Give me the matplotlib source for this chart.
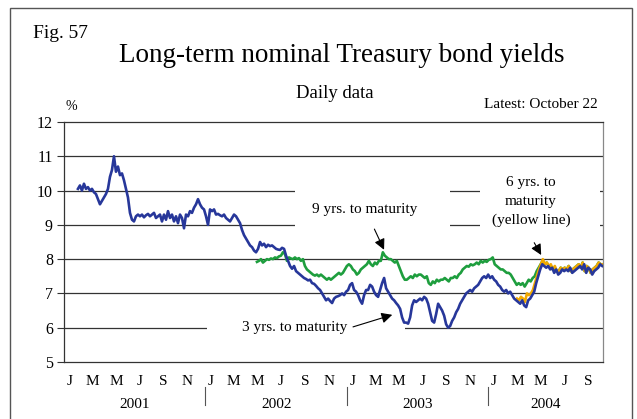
import numpy as np
import pandas as pd
import matplotlib
matplotlib.use("Agg")
from matplotlib import pyplot as plt
from matplotlib.patches import Rectangle
import matplotlib.dates as mdates

plt.rcParams['font.family'] = ['Liberation Serif', 'DejaVu Serif']

# 3 yrs. to maturity (blue), evenly spaced readings
yrs3_start, yrs3_end = '2001-02-06', '2004-10-21'
yrs3 = [10.05, 10.15, 10.0, 10.2, 10.05, 10.1, 10.0, 10.05,
        9.95, 9.9, 9.75, 9.6, 9.7, 9.8, 9.9, 10.05,
        10.4, 10.6, 11.0, 10.55, 10.7, 10.45, 10.5, 10.3,
        10.05, 9.8, 9.35, 9.15, 9.1, 9.25, 9.3, 9.25,
        9.3, 9.22, 9.28, 9.32, 9.25, 9.3, 9.35, 9.2,
        9.25, 9.3, 9.1, 9.3, 9.15, 9.4, 9.2, 9.3,
        9.1, 9.25, 9.05, 9.3, 9.2, 8.9, 9.3, 9.25,
        9.4, 9.35, 9.5, 9.6, 9.75, 9.6, 9.5, 9.45,
        9.25, 9.0, 9.45, 9.4, 9.45, 9.3, 9.32, 9.28,
        9.25, 9.3, 9.2, 9.15, 9.1, 9.2, 9.3, 9.25,
        9.15, 9.05, 8.85, 8.7, 8.6, 8.5, 8.4, 8.35,
        8.25, 8.2, 8.3, 8.5, 8.4, 8.45, 8.35, 8.42,
        8.38, 8.4, 8.35, 8.3, 8.28, 8.27, 8.33, 8.3,
        8.1, 7.95, 7.8, 7.72, 7.8, 7.65, 7.6, 7.55,
        7.5, 7.45, 7.42, 7.38, 7.4, 7.3, 7.28, 7.22,
        7.15, 7.1, 7.0, 6.9, 6.8, 6.85, 6.78, 6.72,
        6.85, 6.9, 6.92, 6.95, 7.0, 6.95, 7.05, 7.1,
        7.25, 7.3, 7.1, 7.05, 6.95, 6.8, 6.7, 6.95,
        7.1, 7.1, 7.25, 7.2, 7.05, 6.95, 6.9, 7.1,
        7.3, 7.45, 7.15, 7.05, 6.95, 6.85, 6.8, 6.72,
        6.65, 6.55, 6.3, 6.15, 6.15, 6.12, 6.3, 6.65,
        6.8, 6.75, 6.8, 6.85, 6.8, 6.9, 6.85, 6.7,
        6.45, 6.2, 6.15, 6.4, 6.7, 6.6, 6.5, 6.35,
        6.1, 6.0, 6.05, 6.2, 6.3, 6.45, 6.55, 6.7,
        6.8, 6.9, 7.0, 7.05, 7.1, 7.05, 7.15, 7.2,
        7.25, 7.35, 7.45, 7.5, 7.45, 7.55, 7.45, 7.5,
        7.4, 7.35, 7.25, 7.2, 7.1, 7.05, 7.1, 7.0,
        7.05, 6.95, 6.85, 6.8, 6.75, 6.7, 6.8, 6.65,
        6.6, 6.8, 6.85, 6.95, 7.05, 7.3, 7.5, 7.7,
        7.85, 7.8, 7.75, 7.8, 7.7, 7.75, 7.6, 7.7,
        7.55, 7.6, 7.7, 7.65, 7.7, 7.65, 7.75, 7.6,
        7.65, 7.7, 7.75, 7.8, 7.7, 7.85, 7.6, 7.75,
        7.7, 7.55, 7.65, 7.7, 7.75, 7.85, 7.8]

# 9 yrs. to maturity (green)
yrs9_start, yrs9_end = '2002-05-14', '2004-10-22'
yrs9 = [7.92, 7.95, 8.0, 7.9, 7.95, 8.0, 7.98, 8.02,
        8.0, 8.05, 8.03, 8.08, 8.1, 8.2, 8.15, 7.95,
        8.05, 8.02, 8.0, 8.05, 8.0, 8.03, 7.95, 8.0,
        7.8, 7.7, 7.65, 7.6, 7.55, 7.52, 7.55, 7.5,
        7.55, 7.5, 7.45, 7.4, 7.45, 7.4, 7.45, 7.5,
        7.55, 7.6, 7.55, 7.6, 7.7, 7.8, 7.85, 7.8,
        7.7, 7.65, 7.55, 7.6, 7.7, 7.75, 7.8, 7.85,
        7.95, 7.85, 7.8, 7.9, 7.85, 7.95, 7.95, 8.2,
        8.1, 8.05, 8.0, 8.0, 7.95, 7.9, 7.95, 7.8,
        7.65, 7.5, 7.4, 7.4, 7.45, 7.5, 7.45, 7.55,
        7.5, 7.55, 7.55, 7.5, 7.45, 7.5, 7.3, 7.25,
        7.35, 7.3, 7.4, 7.35, 7.4, 7.4, 7.45, 7.4,
        7.35, 7.45, 7.45, 7.5, 7.45, 7.55, 7.6, 7.7,
        7.75, 7.8, 7.78, 7.85, 7.82, 7.85, 7.9, 7.85,
        7.95, 7.9, 7.95, 7.92, 7.98, 8.0, 8.05, 7.85,
        7.8, 7.75, 7.7, 7.7, 7.65, 7.6, 7.6, 7.55,
        7.45, 7.35, 7.25, 7.3, 7.25, 7.3, 7.2, 7.3,
        7.4, 7.35, 7.45, 7.5, 7.65, 7.75, 7.85, 7.95,
        7.85, 7.9, 7.8, 7.8, 7.7, 7.75, 7.65, 7.65,
        7.75, 7.7, 7.75, 7.7, 7.8, 7.65, 7.7, 7.75,
        7.8, 7.85, 7.75, 7.9, 7.65, 7.8, 7.75, 7.6,
        7.7, 7.75, 7.8, 7.9, 7.85, 7.85]

# 6 yrs. to maturity (yellow)
yrs6_start, yrs6_end = '2004-03-15', '2004-10-22'
yrs6 = [6.85, 6.8, 6.9, 6.85, 6.75, 7.0, 6.95, 7.0,
        7.1, 7.3, 7.5, 7.7, 7.85, 8.0, 7.85, 7.9,
        7.8, 7.85, 7.7, 7.8, 7.65, 7.65, 7.75, 7.7,
        7.75, 7.7, 7.8, 7.65, 7.7, 7.75, 7.8, 7.85,
        7.75, 7.9, 7.65, 7.8, 7.75, 7.6, 7.7, 7.75,
        7.8, 7.9, 7.85, 7.85]

years = [2001, 2002, 2003, 2004]
month_letters = ['J', 'M', 'M', 'J', 'S', 'N']
x_end = pd.Timestamp('2004-10-23')

d3 = pd.date_range(yrs3_start, yrs3_end, periods=len(yrs3))
d9 = pd.date_range(yrs9_start, yrs9_end, periods=len(yrs9))
d6 = pd.date_range(yrs6_start, yrs6_end, periods=len(yrs6))

fig = plt.figure(figsize=(6.37, 4.19), dpi=100)
fig.patches.append(Rectangle((10 / 637, -0.02), 622 / 637, 1.02 - 8 / 419,
                             transform=fig.transFigure, fill=False,
                             edgecolor='#555555', lw=1.0))

ax = fig.add_axes([64 / 637, 57 / 419, 539 / 637, 240 / 419])
ax.set_xlim(pd.Timestamp('2001-01-01'), x_end)
ax.set_ylim(5, 12)

for v in range(6, 12):
    ax.axhline(v, color='#333333', lw=0.9, zorder=1)

# white areas behind the labels
for x0, x1, y0, y1 in [('2002-08-19', '2003-09-23', 8.8, 10.4),
                       ('2003-12-10', '2004-10-15', 8.8, 10.5),
                       ('2002-01-05', '2003-05-30', 5.8, 6.2)]:
    a, b = mdates.date2num(pd.Timestamp(x0)), mdates.date2num(pd.Timestamp(x1))
    ax.add_patch(Rectangle((a, y0), b - a, y1 - y0, facecolor='white',
                           edgecolor='none', zorder=2))

ax.plot(d9, yrs9, color='#1e9e3e', lw=1.9, zorder=3)
ax.plot(d6, yrs6, color='#f2a900', lw=1.9, zorder=4)
ax.plot(d3, yrs3, color='#27379a', lw=1.9, zorder=5)

for s in ax.spines.values():
    s.set_color('#333333')
    s.set_linewidth(0.9)
ax.spines['right'].set_color('#888888')

ax.set_yticks(range(5, 13))
ax.tick_params(axis='y', direction='out', length=5, width=0.8, labelsize=11.5,
               pad=3, color='#333333')

mticks, mlabels = [], []
for y in years:
    for i, m in enumerate([1, 3, 5, 7, 9, 11]):
        t = pd.Timestamp(year=y, month=m, day=15)
        if t < x_end:
            mticks.append(t)
            mlabels.append(month_letters[i])
ax.set_xticks(mticks)
ax.set_xticklabels(mlabels)
ax.tick_params(axis='x', length=0, labelsize=11, pad=9)

xt = ax.get_xaxis_transform()
for y in years:
    lo = pd.Timestamp(year=y, month=1, day=1)
    hi = min(pd.Timestamp(year=y + 1, month=1, day=1), x_end)
    ax.text(lo + (hi - lo) / 2, -0.175, str(y), transform=xt, ha='center',
            va='center', fontsize=11)
    if y > years[0]:
        ax.plot([lo, lo], [-0.105, -0.18], transform=xt, color='#555555',
                lw=0.8, clip_on=False)

# labels and arrows
arrow = dict(arrowstyle='-|>', color='black', lw=0.8, mutation_scale=16)
ax.text(pd.Timestamp('2003-02-15'), 9.45, '9 yrs. to maturity', ha='center',
        va='center', fontsize=11, zorder=6)
ax.annotate('', xy=(pd.Timestamp('2003-04-10'), 8.2),
            xytext=(pd.Timestamp('2003-03-10'), 8.95), arrowprops=arrow, zorder=6)
ax.text(pd.Timestamp('2002-08-20'), 6.0, '3 yrs. to maturity', ha='center',
        va='center', fontsize=11, zorder=6)
ax.annotate('', xy=(pd.Timestamp('2003-05-05'), 6.4),
            xytext=(pd.Timestamp('2003-01-10'), 6.0), arrowprops=arrow, zorder=6)
ax.text(pd.Timestamp('2004-04-20'), 9.68, '6 yrs. to\nmaturity\n(yellow line)',
        ha='center', va='center', fontsize=11, linespacing=1.6, zorder=6)
ax.annotate('', xy=(pd.Timestamp('2004-05-20'), 8.05),
            xytext=(pd.Timestamp('2004-04-25'), 8.55), arrowprops=arrow, zorder=6)

fig.text(33 / 637, 1 - 33 / 419, 'Fig. 57', fontsize=14, va='center')
fig.text(342 / 637, 1 - 55 / 419, 'Long-term nominal Treasury bond yields',
         fontsize=19.5, ha='center', va='center')
fig.text(335 / 637, 1 - 94 / 419, 'Daily data', fontsize=13.5, ha='center',
         va='center')
fig.text(598 / 637, 1 - 104 / 419, 'Latest: October 22', fontsize=11,
         ha='right', va='center')
fig.text(66 / 637, 1 - 106 / 419, '%', fontsize=10, va='center')

fig.savefig('out.png', dpi=100)
